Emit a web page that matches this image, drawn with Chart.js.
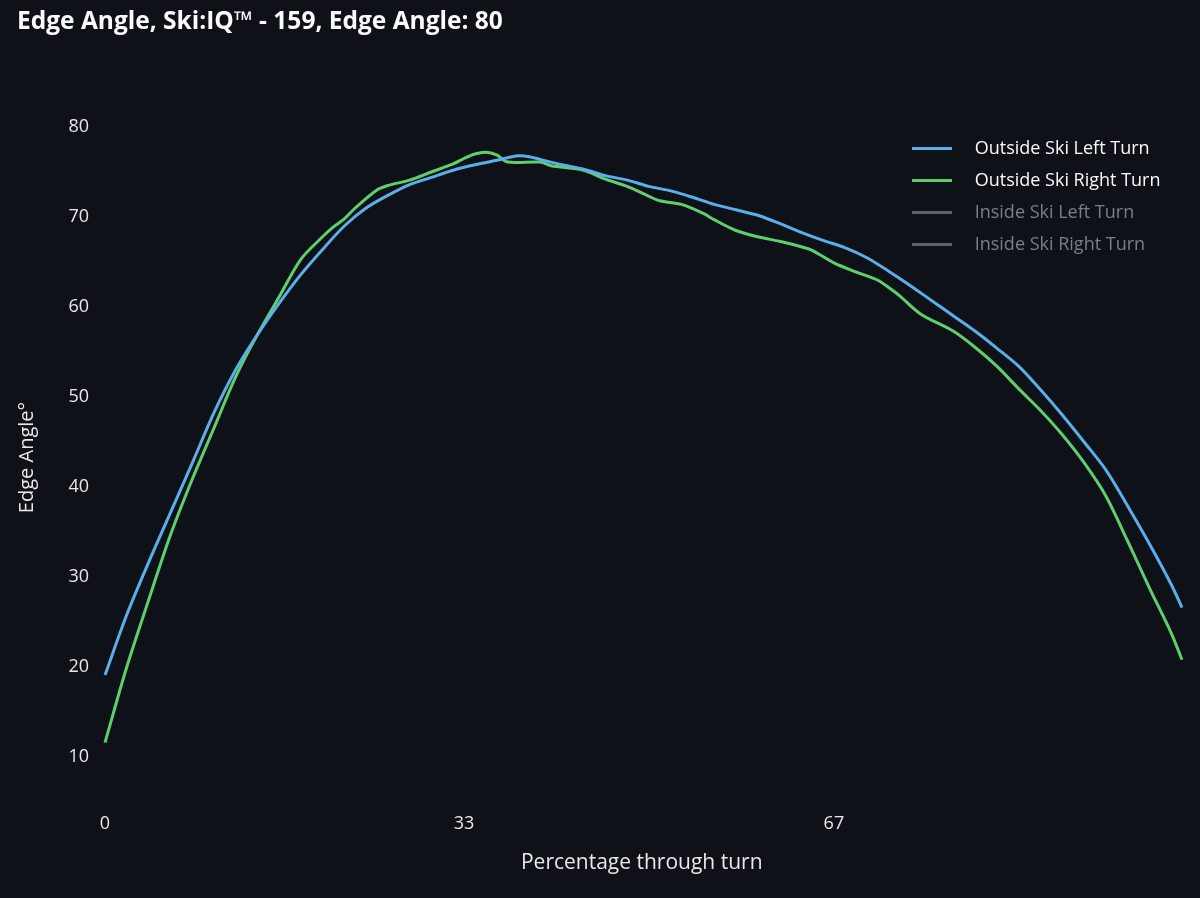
<!DOCTYPE html>
<html>
<head>
<meta charset="utf-8">
<script src="https://cdn.jsdelivr.net/npm/chart.js@4"></script>
<style>
  html, body { margin: 0; padding: 0; background: #0e1117; }
  #wrap { width: 1200px; height: 898px; position: relative; }
</style>
</head>
<body>
<div id="wrap"><canvas id="c" width="1200" height="898"></canvas></div>
<script>
const chartTitle = "Edge Angle, Ski:IQ\u2122 - 159, Edge Angle: 80";
const xTitle = "Percentage through turn";
const yTitle = "Edge Angle\u00b0";
const seriesNames = ["Outside Ski Left Turn", "Outside Ski Right Turn", "Inside Ski Left Turn", "Inside Ski Right Turn"];
const xTicks = [0, 33, 67];
const yTicks = [10, 20, 30, 40, 50, 60, 70, 80];

const leftX = [0,2,4,6,8,10,12,14,16,18,20,22,24,26,28,30,32,34,36,38,39,40,42,44,46,48,50,52,54,56,58,60,62,64,66,68,70,72,74,76,78,80,82,84,86,88,90,92,94,96,98,99];
const leftY = [19.1,25.8,31.6,37.1,42.6,48.2,53.0,56.9,60.4,63.6,66.4,69.0,71.0,72.4,73.6,74.4,75.2,75.8,76.3,76.8,76.7,76.4,75.8,75.3,74.6,74.1,73.4,72.9,72.2,71.4,70.8,70.2,69.3,68.3,67.4,66.6,65.5,64.0,62.4,60.7,59.0,57.3,55.4,53.4,50.8,48.0,45.0,41.9,37.9,33.7,29.2,26.6];

const rightX = [0,2,4,6,8,10,12,14,16,18,20,21,22,23,25,26,28,30,32,33,34,35,36,37,40,41,44,46,48,50,51,53,55,56,58,60,62,64,65,67,69,71,72,73,75,78,80,82,84,86,88,90,92,94,96,98,99];
const rightY = [11.6,20.0,27.4,34.6,40.8,46.5,52.2,56.9,61.1,65.3,67.8,68.9,69.8,71.0,73.0,73.5,74.1,75.0,75.9,76.5,77.0,77.2,76.9,76.1,76.1,75.7,75.2,74.2,73.4,72.3,71.8,71.4,70.4,69.7,68.5,67.8,67.3,66.7,66.3,64.9,63.9,63.0,62.2,61.3,59.2,57.3,55.5,53.4,50.9,48.5,45.8,42.7,39.0,34.0,28.8,23.8,20.8];

const insideLeftY = [];
const insideRightY = [];

const colors = ["#5aaeea", "#5fcf6c", "#5c6068", "#5c6068"];
const legendTextColors = ["#fafafa", "#fafafa", "#7b7f86", "#7b7f86"];

function pts(xs, ys) { return ys.map((y, i) => ({ x: xs[i], y: y })); }

const legendMover = {
  id: 'legendMover',
  beforeUpdate(chart) {
    const lg = chart.legend;
    if (lg && !lg._patched) {
      const f = lg.fit;
      lg.fit = function () { f.call(this); this.width = 0; };
      lg._patched = true;
    }
  },
  afterLayout(chart) {
    const lg = chart.legend;
    if (!lg) return;
    lg.left = 898; lg.right = 1195; lg.width = 297;
    lg.top = 125.5; lg.bottom = 290; lg.height = 164.5;
  }
};

const baseFont = "'Open Sans', Lato, sans-serif";

new Chart(document.getElementById('c'), {
  type: 'line',
  data: {
    datasets: [
      { label: seriesNames[0], data: pts(leftX, leftY), borderColor: colors[0], backgroundColor: colors[0] },
      { label: seriesNames[1], data: pts(rightX, rightY), borderColor: colors[1], backgroundColor: colors[1] },
      { label: seriesNames[2], data: insideLeftY, borderColor: colors[2], backgroundColor: colors[2] },
      { label: seriesNames[3], data: insideRightY, borderColor: colors[3], backgroundColor: colors[3] }
    ]
  },
  options: {
    responsive: false,
    animation: false,
    layout: { padding: { left: 17, right: 15, top: 7, bottom: 22 } },
    elements: {
      line: { borderWidth: 3, tension: 0.3 },
      point: { radius: 0, hoverRadius: 0 }
    },
    scales: {
      x: {
        type: 'linear',
        min: -0.919,
        max: 99.276,
        grid: { display: false, drawTicks: false },
        border: { display: false },
        afterBuildTicks: (axis) => { axis.ticks = xTicks.map(v => ({ value: v })); },
        afterFit: (axis) => { axis.height = 86; },
        ticks: { color: '#e8e8e8', font: { family: baseFont, size: 18 }, padding: 23, maxRotation: 0 },
        title: { display: true, text: '\u2009' + xTitle, color: '#e8e8e8', font: { family: baseFont, size: 21 }, padding: { top: 13, bottom: 0 } }
      },
      y: {
        type: 'linear',
        min: 80 - (790 - 127) / 9,
        max: 80 + (127 - 95) / 9,
        grid: { display: false, drawTicks: false },
        border: { display: false },
        afterBuildTicks: (axis) => { axis.ticks = yTicks.map(v => ({ value: v })); },
        afterFit: (axis) => { axis.width = 78; },
        ticks: { color: '#e8e8e8', font: { family: baseFont, size: 18 }, padding: 6 },
        title: { display: true, text: yTitle + '\u2003\u2002', color: '#e8e8e8', font: { family: baseFont, size: 20, lineHeight: 1 }, padding: { top: 0, bottom: 0 } }
      }
    },
    plugins: {
      title: {
        display: true, text: chartTitle, align: 'start', color: '#fafafa',
        font: { family: baseFont, size: 24.5, weight: 'bold' },
        padding: { top: 0, bottom: 58.6 }
      },
      legend: {
        position: 'right', align: 'start',
        labels: {
          font: { family: baseFont, size: 18 },
          usePointStyle: true, pointStyle: 'line', pointStyleWidth: 40,
          padding: 14,
          generateLabels: (chart) => chart.data.datasets.map((ds, i) => ({
            text: '\u2002 ' + ds.label,
            fillStyle: colors[i], strokeStyle: colors[i], lineWidth: 3,
            pointStyle: 'line', fontColor: legendTextColors[i], hidden: false, datasetIndex: i
          }))
        }
      },
      tooltip: { enabled: false }
    }
  },
  plugins: [legendMover]
});
</script>
</body>
</html>
